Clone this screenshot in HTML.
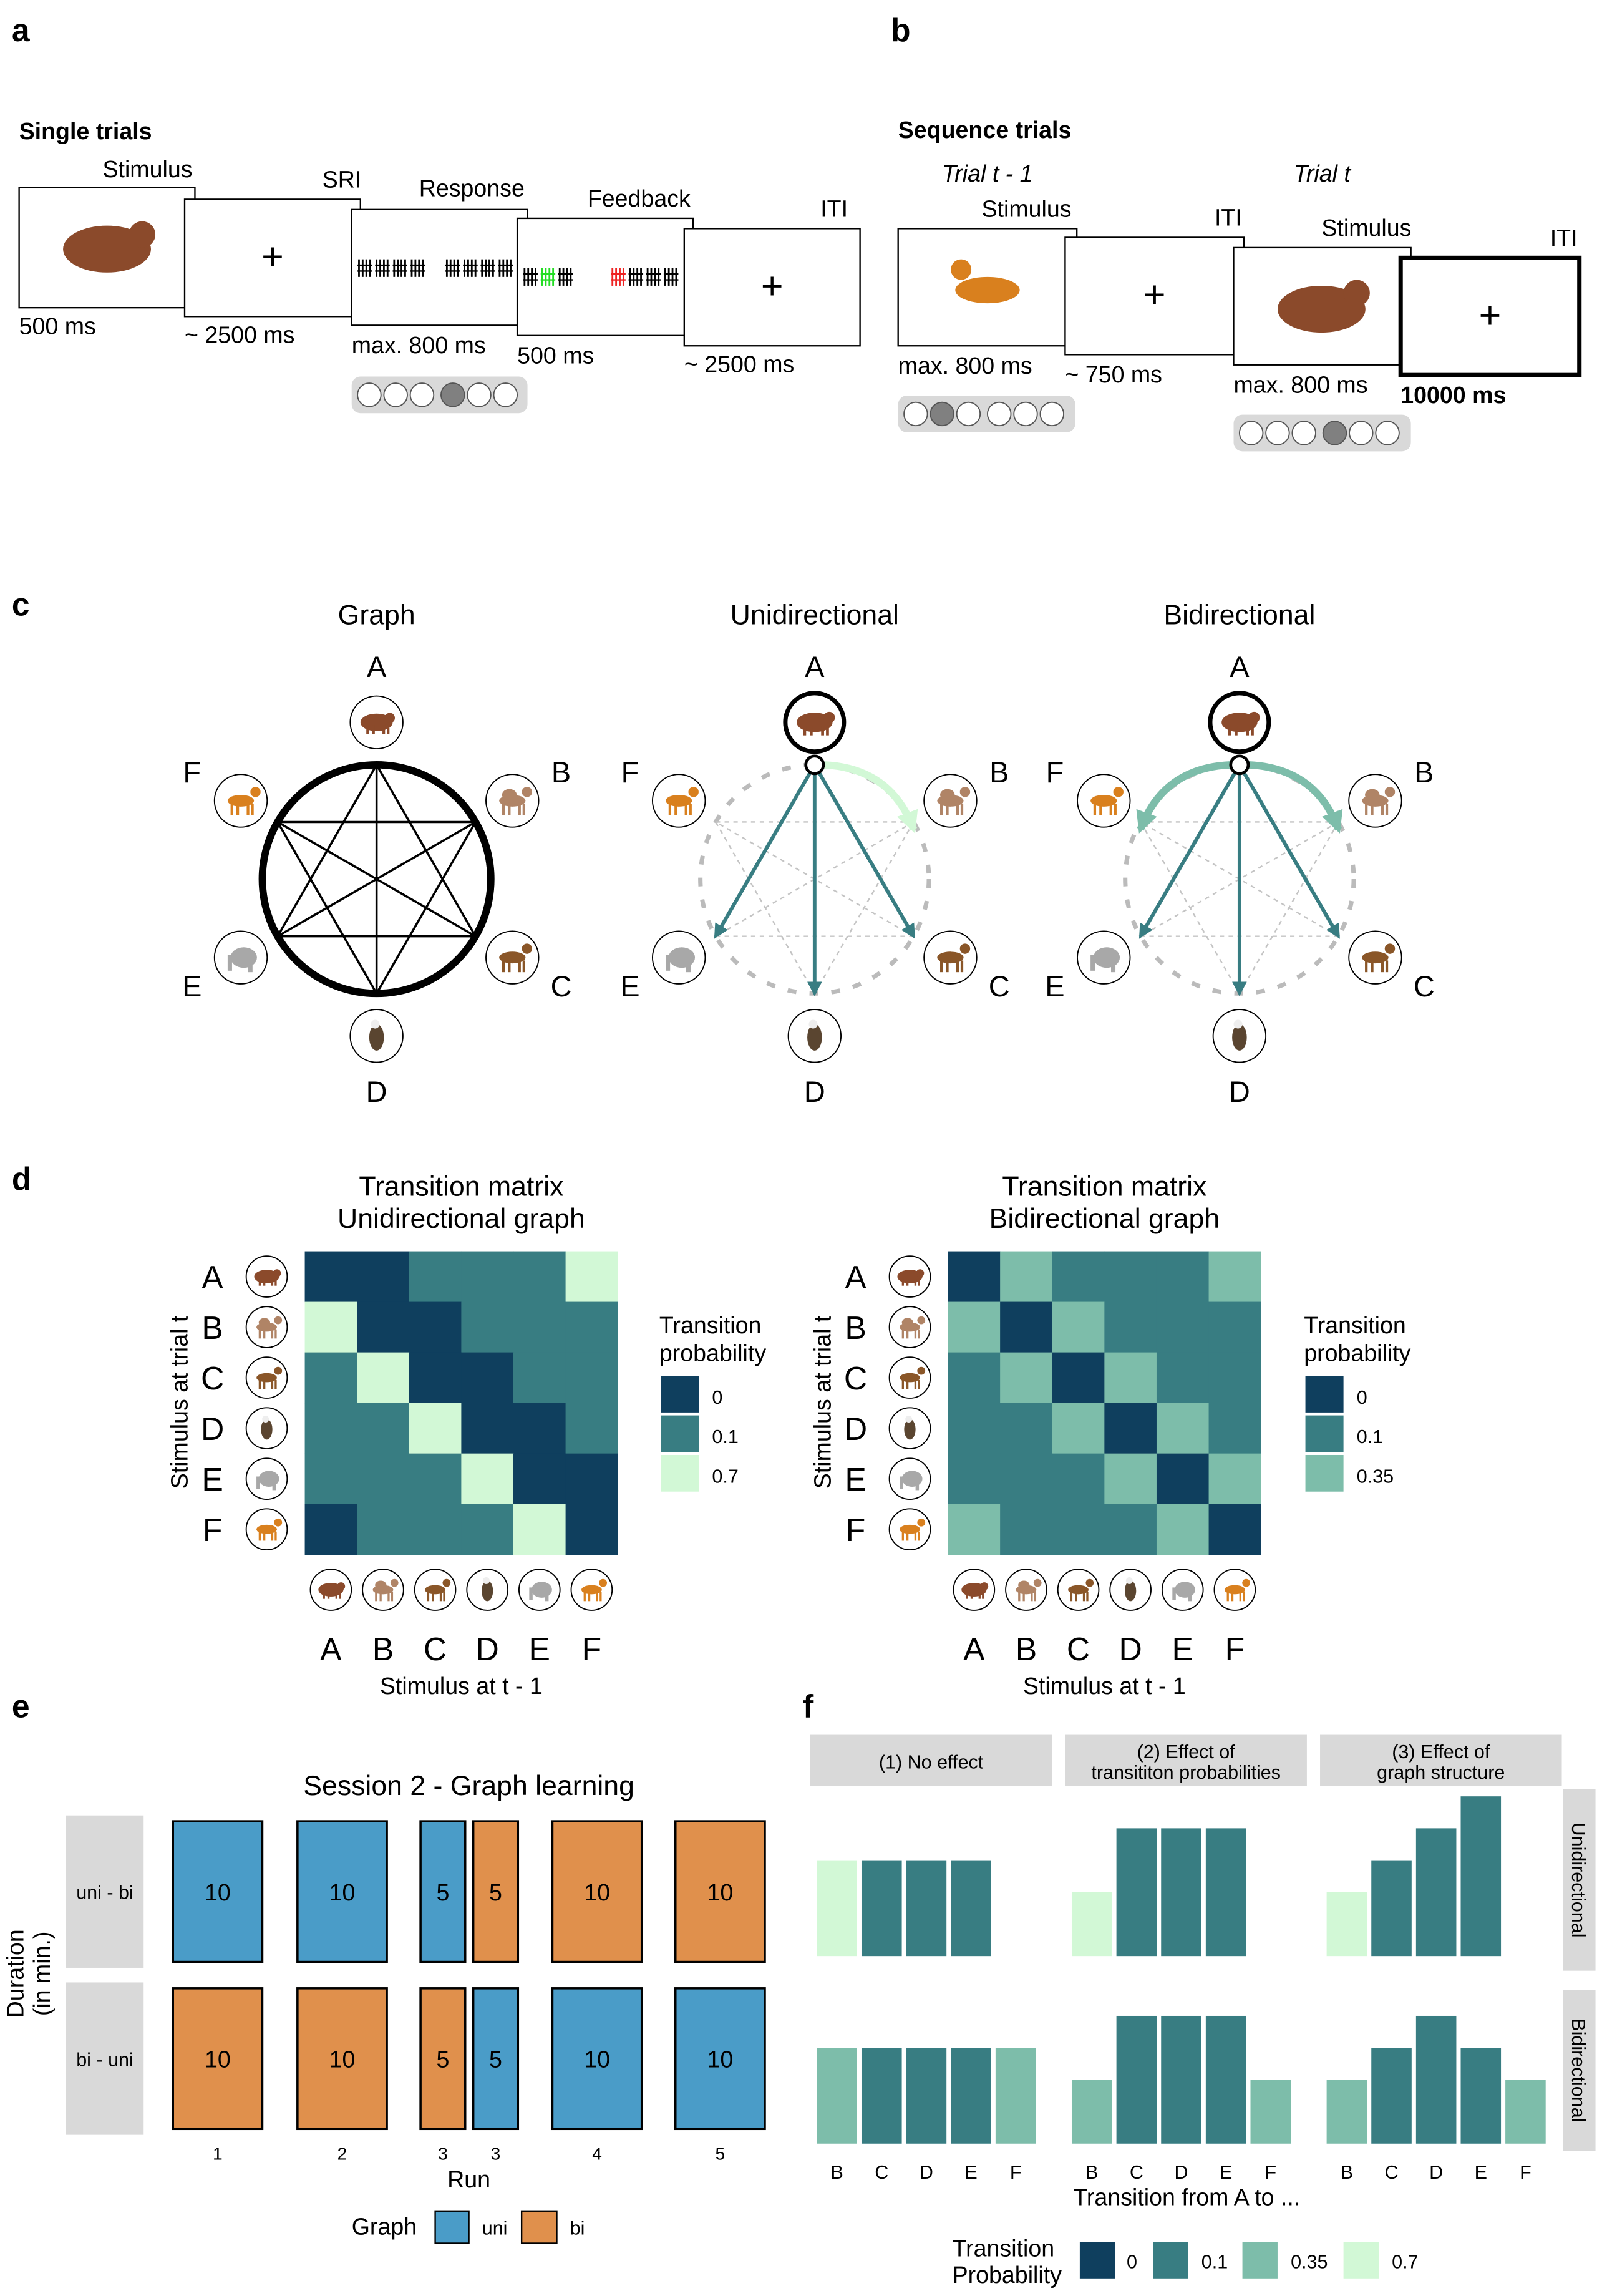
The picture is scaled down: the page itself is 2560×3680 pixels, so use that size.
<!DOCTYPE html>
<html><head><meta charset="utf-8">
<style>
html,body{margin:0;padding:0;background:#fff;}
svg{display:block;font-family:"Liberation Sans",Arial,sans-serif;}
</style></head>
<body>
<svg id="root" xmlns="http://www.w3.org/2000/svg" width="2560" height="3680" viewBox="0 0 1090 1567">
<defs>
<marker id="arrT" viewBox="0 0 10 10" refX="8" refY="5" markerWidth="4" markerHeight="4" orient="auto"><path d="M0,0L10,5L0,10z" fill="#387d82"/></marker>
<marker id="arrL" viewBox="0 0 10 10" refX="8" refY="5" markerWidth="3" markerHeight="3" orient="auto"><path d="M0,0L10,5L0,10z" fill="#d2f8d6"/></marker>
<marker id="arrM" viewBox="0 0 10 10" refX="8" refY="5" markerWidth="3" markerHeight="3" orient="auto"><path d="M0,0L10,5L0,10z" fill="#7dbdaa"/></marker>
</defs>
<rect x="0" y="0" width="1090" height="1567" fill="#fff"/>
</svg>
<script>
const NS="http://www.w3.org/2000/svg";
const root=document.getElementById('root');
// ---------- data ----------
const probColors={"0":"#0f3f5e","0.1":"#387d82","0.35":"#7dbdaa","0.7":"#d2f8d6"};
const nodeLetters=["A","B","C","D","E","F"];
const nodeAnimals=["bear","camel","deer","eagle","elephant","fox"];
const uniMatrix=[
 [0,0,0.1,0.1,0.1,0.7],
 [0.7,0,0,0.1,0.1,0.1],
 [0.1,0.7,0,0,0.1,0.1],
 [0.1,0.1,0.7,0,0,0.1],
 [0.1,0.1,0.1,0.7,0,0],
 [0,0.1,0.1,0.1,0.7,0]];
const biMatrix=[
 [0,0.35,0.1,0.1,0.1,0.35],
 [0.35,0,0.35,0.1,0.1,0.1],
 [0.1,0.35,0,0.35,0.1,0.1],
 [0.1,0.1,0.35,0,0.35,0.1],
 [0.1,0.1,0.1,0.35,0,0.35],
 [0.35,0.1,0.1,0.1,0.35,0]];
const runLabels=["1","2","3","3","4","5"];
const runDurations=[10,10,5,5,10,10];
const rowUniBi=["uni","uni","uni","bi","bi","bi"];
const rowBiUni=["bi","bi","bi","uni","uni","uni"];
const fTargets=["B","C","D","E","F"];
const fUniHeights=[[3,3,3,3,0],[2,4,4,4,0],[2,3,4,5,0]];
const fUniProbs=[["0.7","0.1","0.1","0.1",""],["0.7","0.1","0.1","0.1",""],["0.7","0.1","0.1","0.1",""]];
const fBiHeights=[[3,3,3,3,3],[2,4,4,4,2],[2,3,4,3,2]];
const fBiProbs=[["0.35","0.1","0.1","0.1","0.35"],["0.35","0.1","0.1","0.1","0.35"],["0.35","0.1","0.1","0.1","0.35"]];

function el(tag,attrs,parent){const e=document.createElementNS(NS,tag);for(const k in attrs)e.setAttribute(k,attrs[k]);(parent||root).appendChild(e);return e;}
function txt(x,y,s,size,opts,parent){opts=opts||{};const t=el('text',{x:x,y:y,'font-size':size,fill:opts.fill||'#000','text-anchor':opts.anchor||'start'},parent);
 if(opts.bold)t.setAttribute('font-weight','bold');if(opts.italic)t.setAttribute('font-style','italic');if(opts.rot)t.setAttribute('transform',`rotate(${opts.rot} ${x} ${y})`);t.textContent=s;
 
 return t;}

const animalCol={bear:"#8b4a2b",camel:"#b08466",deer:"#8a5628",eagle:"#5a4530",elephant:"#a8a8a8",fox:"#d9801e"};
function icon(cx,cy,type,r,thick){
 const g=el('g',{});
 
 
 el('circle',{cx:cx,cy:cy,r:r,fill:'#fff',stroke:'#000','stroke-width':thick||0.8},g);
 const c=animalCol[type],s=r/18;
 if(type==='eagle'){el('ellipse',{cx:cx,cy:cy+1*s,rx:5*s,ry:9*s,fill:c},g);el('circle',{cx:cx-1*s,cy:cy-8*s,r:3*s,fill:'#eee'},g);}
 else if(type==='elephant'){el('ellipse',{cx:cx+2*s,cy:cy,rx:9*s,ry:7*s,fill:c},g);el('rect',{x:cx-9*s,y:cy-2*s,width:3*s,height:11*s,fill:c},g);el('rect',{x:cx+5*s,y:cy+4*s,width:3*s,height:6*s,fill:c},g);}
 else{el('ellipse',{cx:cx,cy:cy,rx:(type==='bear'?11:9)*s,ry:(type==='bear'?6:4)*s,fill:c},g);
  el('circle',{cx:cx+(type==='bear'?9:10)*s,cy:cy-(type==='bear'?3:6)*s,r:3.5*s,fill:c},g);
  for(const dx of [-7,-3,4,7])el('rect',{x:cx+dx*s,y:cy+2*s,width:1.8*s,height:(type==='bear'?6:8)*s,fill:c},g);
  if(type==='camel')el('ellipse',{cx:cx-2*s,cy:cy-4*s,rx:5*s,ry:4*s,fill:c},g);}
 return g;}

function screen(x,y,w,h,name,sw){const r=el('rect',{x:x,y:y,width:w,height:h,fill:'#fff',stroke:'#000','stroke-width':sw||1});return r;}
function plus(cx,cy){txt(cx,cy+8,'+',26,{anchor:'middle',name:'fixation-cross'});}
function dots(x,y,w,filled){const r=el('rect',{x:x,y:y,width:w,height:25,rx:6,fill:'#d9d9d9'});
 for(let i=0;i<6;i++){const cx=x+12+i*18+(i>=3?3:0);el('circle',{cx:cx,cy:y+12.5,r:8,fill:i===filled?'#808080':'#fff',stroke:'#555','stroke-width':0.8});}}
function bars(x,y,cols){
 for(let i=0;i<cols.length;i++){if(!cols[i])continue;const bx=x+i*12;for(let k=0;k<4;k++)el('line',{x1:bx+k*2.5,y1:y,x2:bx+k*2.5,y2:y+12,stroke:cols[i],'stroke-width':1.2});el('line',{x1:bx-1,y1:y+4,x2:bx+9,y2:y+4,stroke:cols[i],'stroke-width':1});el('line',{x1:bx-1,y1:y+8,x2:bx+9,y2:y+8,stroke:cols[i],'stroke-width':1});}}

// ---------- Panel a ----------
txt(8,28,'a',22,{bold:true,name:'panel-a-label'});
txt(13,95,'Single trials',16,{bold:true,name:'single-trials-title'});
screen(13,128,120,82,'stimulus-screen');
el('ellipse',{cx:73,cy:170,rx:30,ry:16,fill:'#8b4a2b'});el('circle',{cx:97,cy:160,r:9,fill:'#8b4a2b'});
txt(70,121,'Stimulus',16,{name:'stimulus-label'});txt(13,228,'500 ms',16,{name:'duration'});
screen(126,136,120,80,'sri-screen');plus(186,176);txt(220,128,'SRI',16);txt(126,234,'~ 2500 ms',16);
screen(240,143,120,79,'response-screen');bars(245,177,['#000','#000','#000','#000',0,'#000','#000','#000','#000']);
txt(286,134,'Response',16);txt(240,241,'max. 800 ms',16);dots(240,257,120,3);
screen(353,149,120,80,'feedback-screen');bars(358,183,['#000','#2d2','#000',0,0,'#e22','#000','#000','#000']);
txt(401,141,'Feedback',16);txt(353,248,'500 ms',16);
screen(467,156,120,80,'iti-screen');plus(527,196);txt(560,148,'ITI',16);txt(467,254,'~ 2500 ms',16);

// ---------- Panel b ----------
txt(608,28,'b',22,{bold:true,name:'panel-b-label'});
txt(613,94,'Sequence trials',16,{bold:true,name:'sequence-trials-title'});
txt(643,124,'Trial t - 1',16,{italic:true});txt(883,124,'Trial t',16,{italic:true});
screen(613,156,122,80,'stimulus-screen-fox');
el('ellipse',{cx:674,cy:198,rx:22,ry:9,fill:'#d9801e'});el('circle',{cx:656,cy:184,r:7,fill:'#d9801e'});
txt(670,148,'Stimulus',16);txt(613,255,'max. 800 ms',16);dots(613,270,121,1);
screen(727,162,122,80,'iti-screen');plus(788,202);txt(829,154,'ITI',16);txt(727,261,'~ 750 ms',16);
screen(842,169,121,80,'stimulus-screen-bear');
el('ellipse',{cx:902,cy:211,rx:30,ry:16,fill:'#8b4a2b'});el('circle',{cx:926,cy:200,r:9,fill:'#8b4a2b'});
txt(902,161,'Stimulus',16);txt(842,268,'max. 800 ms',16);dots(842,283,121,3);
screen(956,176,122,80,'iti-long-screen',3);plus(1017,216);txt(1058,168,'ITI',16);txt(956,275,'10000 ms',16,{bold:true});

// ---------- Panel c ----------
txt(8,420,'c',22,{bold:true,name:'panel-c-label'});
const angles=[-90,-30,30,90,150,210];
function graph(cx,title,mode){
 txt(cx,426,title,19,{anchor:'middle',name:'graph-title'});
 const cy=600,R=107,r0=78;
 const P=angles.map(a=>[cx+R*Math.cos(a*Math.PI/180),cy+R*Math.sin(a*Math.PI/180)]);
 const Q=angles.map(a=>[cx+r0*Math.cos(a*Math.PI/180),cy+r0*Math.sin(a*Math.PI/180)]);
 const LP=[[0,-145],[126,-73],[126,73],[0,145],[-126,73],[-126,-73]];
 if(mode==='graph'){
  el('circle',{cx:cx,cy:cy,r:r0,fill:'none',stroke:'#000','stroke-width':5});
  for(let i=0;i<6;i++)for(let j=i+2;j<6;j++){if(i===0&&j===5)continue;el('line',{x1:Q[i][0],y1:Q[i][1],x2:Q[j][0],y2:Q[j][1],stroke:'#000','stroke-width':1.5});}
 }else{
  el('circle',{cx:cx,cy:cy,r:r0,fill:'none',stroke:'#bbb','stroke-width':3,'stroke-dasharray':'6 9'});
  for(let i=0;i<6;i++)for(let j=i+2;j<6;j++){if(i===0&&j===5)continue;el('line',{x1:Q[i][0],y1:Q[i][1],x2:Q[j][0],y2:Q[j][1],stroke:'#c4c4c4','stroke-width':1,'stroke-dasharray':'3 3'});}
  const s=[cx,cy-r0];
  if(mode==='uni'){el('path',{d:`M${cx+6},${cy-r0} Q${cx+52},${cy-r0+2} ${Q[1][0]},${Q[1][1]+5}`,fill:'none',stroke:'#d2f8d6','stroke-width':5,'marker-end':'url(#arrL)'});}
  else{el('path',{d:`M${cx+6},${cy-r0} Q${cx+52},${cy-r0+2} ${Q[1][0]},${Q[1][1]+5}`,fill:'none',stroke:'#7dbdaa','stroke-width':5,'marker-end':'url(#arrM)'});
   el('path',{d:`M${cx-6},${cy-r0} Q${cx-52},${cy-r0+2} ${Q[5][0]},${Q[5][1]+5}`,fill:'none',stroke:'#7dbdaa','stroke-width':5,'marker-end':'url(#arrM)'});}
  for(const k of [2,3,4])el('line',{x1:s[0],y1:s[1],x2:Q[k][0],y2:Q[k][1],stroke:'#387d82','stroke-width':2.5,'marker-end':'url(#arrT)'});
  el('circle',{cx:s[0],cy:s[1],r:6,fill:'#fff',stroke:'#000','stroke-width':2});
 }
 for(let i=0;i<6;i++){icon(P[i][0],P[i][1],nodeAnimals[i],i===0&&mode!=='graph'?20:18,i===0&&mode!=='graph'?3:0.8);
  txt(cx+LP[i][0],cy+LP[i][1]+7,nodeLetters[i],20,{anchor:'middle',name:'node-letter'});}
}
graph(257,'Graph','graph');graph(556,'Unidirectional','uni');graph(846,'Bidirectional','bi');

// ---------- Panel d ----------
txt(8,812,'d',22,{bold:true,name:'panel-d-label'});
function heat(x0,M,t2,legVals,lx){
 const cw=35.6,ch=34.5,y0=854,cxm=x0+3*cw;
 txt(cxm,816,'Transition matrix',19,{anchor:'middle',name:'heatmap-title'});
 txt(cxm,838,t2,19,{anchor:'middle',name:'heatmap-subtitle'});
 for(let r=0;r<6;r++)for(let c=0;c<6;c++){const k=el('rect',{x:x0+c*cw,y:y0+r*ch,width:cw+0.3,height:ch+0.3,fill:probColors[String(M[r][c])]});
  }
 for(let i=0;i<6;i++){
  txt(x0-63,y0+i*ch+ch/2+8,nodeLetters[i],22,{anchor:'middle',name:'row-label'});
  icon(x0-26,y0+i*ch+ch/2,nodeAnimals[i],14);
  icon(x0+i*cw+cw/2,1085,nodeAnimals[i],14);
  txt(x0+i*cw+cw/2,1133,nodeLetters[i],22,{anchor:'middle',name:'col-label'});}
 txt(cxm,1156,'Stimulus at t - 1',16,{anchor:'middle',name:'x-axis-title'});
 txt(x0-80,957,'Stimulus at trial t',16,{anchor:'middle',rot:-90,name:'y-axis-title'});
 txt(lx,910,'Transition',16,{name:'legend-title'});txt(lx,929,'probability',16,{name:'legend-title'});
 legVals.forEach((v,i)=>{el('rect',{x:lx+1,y:939+i*27,width:26,height:25,fill:probColors[v]});txt(lx+36,958+i*27,v,13,{name:'legend-entry'});});
}
heat(208,uniMatrix,'Unidirectional graph',["0","0.1","0.7"],450);
heat(647,biMatrix,'Bidirectional graph',["0","0.1","0.35"],890);

// ---------- Panel e ----------
txt(8,1172,'e',22,{bold:true,name:'panel-e-label'});
txt(320,1225,'Session 2 - Graph learning',19,{anchor:'middle',name:'chart-title'});
const gcol={uni:"#4a9cc8",bi:"#e0904c"};
function strip(x,y,w,h,s,rot){const r=el('rect',{x:x,y:y,width:w,height:h,fill:'#d9d9d9'});
 if(rot)txt(x+w/2-5,y+h/2,s,13,{anchor:'middle',rot:90,name:'facet-label'});else txt(x+w/2,y+h/2+5,s,13,{anchor:'middle',name:'facet-label'});}
strip(45,1239,53,104,'uni - bi');strip(45,1353,53,104,'bi - uni');
txt(16,1347,'Duration',16,{anchor:'middle',rot:-90,name:'y-axis-title'});txt(34,1347,'(in min.)',16,{anchor:'middle',rot:-90,name:'y-axis-title'});
const runX=[118,203,287,323,377,461];
const pxPerMin=6.1;
function runRow(y0,graphs){
 for(let i=0;i<6;i++){const w=runDurations[i]*pxPerMin;const r=el('rect',{x:runX[i],y:y0,width:w,height:96,fill:gcol[graphs[i]],stroke:'#000','stroke-width':1.5});
  
  txt(runX[i]+w/2,y0+54,String(runDurations[i]),16,{anchor:'middle',name:'duration-value'});}
}
runRow(1243,rowUniBi);runRow(1357,rowBiUni);
for(let i=0;i<6;i++)txt(runX[i]+runDurations[i]*pxPerMin/2,1474,runLabels[i],12,{anchor:'middle',name:'x-tick'});
txt(320,1493,'Run',16,{anchor:'middle',name:'x-axis-title'});
txt(240,1525,'Graph',16,{name:'legend-title'});
el('rect',{x:297,y:1509,width:23,height:22,fill:gcol.uni,stroke:'#000'});txt(329,1525,'uni',13,{name:'legend-entry'});
el('rect',{x:356,y:1509,width:24,height:22,fill:gcol.bi,stroke:'#000'});txt(389,1525,'bi',13,{name:'legend-entry'});

// ---------- Panel f ----------
txt(548,1172,'f',22,{bold:true,name:'panel-f-label'});
const fx=[553,727,901],fw=165;
const fStrips=[["(1) No effect"],["(2) Effect of","transititon probabilities"],["(3) Effect of","graph structure"]];
fStrips.forEach((s,p)=>{const r=el('rect',{x:fx[p],y:1184,width:fw,height:35,fill:'#d9d9d9'});
 if(s.length===1)txt(fx[p]+fw/2,1207,s[0],13,{anchor:'middle',name:'facet-label'});else{txt(fx[p]+fw/2,1200,s[0],13,{anchor:'middle',name:'facet-label'});txt(fx[p]+fw/2,1214,s[1],13,{anchor:'middle',name:'facet-label'});}});
strip(1067,1221,22,124,'Unidirectional',true);strip(1067,1358,22,110,'Bidirectional',true);
const unitH=21.8,bw=27.5;
function fRow(base,H,Pr){
 for(let p=0;p<3;p++)for(let i=0;i<5;i++){if(!Pr[p][i])continue;const h=H[p][i]*unitH;
  const r=el('rect',{x:fx[p]+4.5+i*30.5,y:base-h,width:bw,height:h,fill:probColors[Pr[p][i]]});}}
fRow(1335,fUniHeights,fUniProbs);fRow(1463,fBiHeights,fBiProbs);
for(let p=0;p<3;p++)for(let i=0;i<5;i++)txt(fx[p]+4.5+i*30.5+bw/2,1487,fTargets[i],13,{anchor:'middle',name:'x-tick'});
txt(810,1505,'Transition from A to ...',16,{anchor:'middle',name:'x-axis-title'});
txt(650,1540,'Transition',16,{name:'legend-title'});txt(650,1558,'Probability',16,{name:'legend-title'});
const fLeg=[["0",737,769],["0.1",787,820],["0.35",848,881],["0.7",917,950]];
fLeg.forEach(([v,x,lx])=>{el('rect',{x:x,y:1530,width:24,height:25,fill:probColors[v]});txt(lx,1548,v,13,{name:'legend-entry'});});
</script>
</body></html>
